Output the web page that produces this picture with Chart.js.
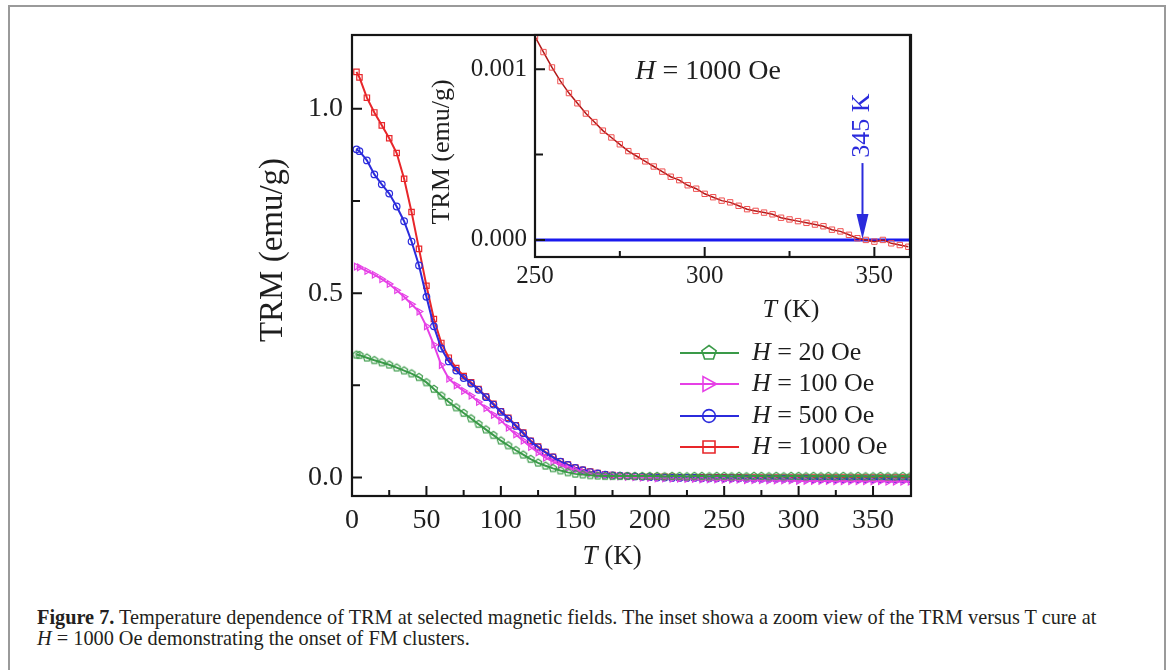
<!DOCTYPE html>
<html>
<head>
<meta charset="utf-8">
<script src="https://cdn.jsdelivr.net/npm/chart.js@4.4.1/dist/chart.umd.min.js"></script>
<style>
  body { margin: 0; background: #fff; width: 1171px; height: 670px; overflow: hidden; position: relative; font-family: 'Liberation Serif', serif; }
  #frame { position: absolute; left: 8px; top: 5px; width: 1154px; height: 700px; border: 2px solid #9a9a9a; }
  #main { position: absolute; left: 0; top: 0; }
  #inset { position: absolute; left: 400px; top: 0; }
  #caption { position: absolute; left: 37px; top: 607px; font-size: 20.3px; line-height: 21px; color: #231f20; white-space: nowrap; }
</style>
</head>
<body>
<div id="frame"></div>
<canvas id="main" width="1171" height="580"></canvas>
<canvas id="inset" width="530" height="330"></canvas>
<div id="caption"><b>Figure 7.</b> Temperature dependence of TRM at selected magnetic fields. The inset showa a zoom view of the TRM versus T cure at<br><i>H</i> = 1000 Oe demonstrating the onset of FM clusters.</div>

<script>
// main plot: TRM vs T for four fields
const temps = [3, 5, 10, 15, 20, 25, 30, 35, 40, 45, 50, 55, 60, 65, 70, 75, 80, 85, 90, 95,
  100, 105, 110, 115, 120, 125, 130, 135, 140, 145, 150, 155, 160, 165, 170, 175, 180, 185, 190, 195,
  200, 205, 210, 215, 220, 225, 230, 235, 240, 245, 250, 255, 260, 265, 270, 275, 280, 285, 290, 295,
  300, 305, 310, 315, 320, 325, 330, 335, 340, 345, 350, 355, 360, 365, 370, 375];

const trm20 = [0.333, 0.332, 0.325, 0.318, 0.312, 0.306, 0.298, 0.290, 0.282, 0.272,
  0.258, 0.240, 0.222, 0.205, 0.190, 0.175, 0.160, 0.145, 0.130, 0.115,
  0.100, 0.087, 0.074, 0.062, 0.050, 0.040, 0.032, 0.025, 0.019, 0.014,
  0.010, 0.008, 0.006, 0.005, 0.004, 0.004, 0.004, 0.004, 0.004, 0.004,
  0.004,
  0.004, 0.003, 0.004, 0.004, 0.003, 0.004, 0.004, 0.003, 0.004, 0.004,
  0.003, 0.004, 0.003, 0.004, 0.004, 0.003, 0.004, 0.003, 0.004, 0.004,
  0.003, 0.004, 0.003, 0.004, 0.003, 0.004, 0.003, 0.004, 0.003, 0.003,
  0.004, 0.003, 0.003, 0.004, 0.003];

const trm100 = [0.572, 0.570, 0.560, 0.550, 0.538, 0.525, 0.508, 0.490, 0.470, 0.450,
  0.410, 0.360, 0.305, 0.268, 0.250, 0.235, 0.222, 0.205, 0.188, 0.170,
  0.155, 0.135, 0.117, 0.100, 0.083, 0.068, 0.054, 0.043, 0.034, 0.026,
  0.020, 0.015, 0.011, 0.008, 0.006, 0.004, 0.003, 0.002, 0.001, 0.000,
  -0.001,
  -0.002, -0.002, -0.003, -0.003, -0.004, -0.004, -0.005, -0.005, -0.005, -0.006,
  -0.006, -0.006, -0.007, -0.007, -0.007, -0.008, -0.008, -0.008, -0.008, -0.009,
  -0.009, -0.009, -0.009, -0.009, -0.010, -0.010, -0.010, -0.010, -0.010, -0.010,
  -0.010, -0.011, -0.011, -0.011, -0.011];

const trm500 = [0.890, 0.885, 0.860, 0.822, 0.795, 0.770, 0.735, 0.695, 0.640, 0.575,
  0.490, 0.410, 0.350, 0.315, 0.290, 0.270, 0.255, 0.238, 0.218, 0.198,
  0.178, 0.160, 0.140, 0.120, 0.098, 0.082, 0.068, 0.055, 0.043, 0.034,
  0.026, 0.020, 0.015, 0.011, 0.008, 0.006, 0.005, 0.004, 0.003, 0.002,
  0.001,
  0.000, 0.000, -0.001, -0.001, -0.001, -0.001, -0.002, -0.002, -0.002, -0.002,
  -0.002, -0.002, -0.003, -0.003, -0.003, -0.003, -0.003, -0.003, -0.003, -0.003,
  -0.003, -0.004, -0.004, -0.004, -0.004, -0.004, -0.004, -0.004, -0.004, -0.004,
  -0.004, -0.004, -0.005, -0.005, -0.005];

const trm1000 = [1.100, 1.085, 1.030, 0.990, 0.955, 0.920, 0.880, 0.810, 0.720, 0.620,
  0.520, 0.430, 0.365, 0.325, 0.297, 0.275, 0.258, 0.240, 0.220, 0.200,
  0.180, 0.162, 0.142, 0.122, 0.100, 0.084, 0.069, 0.056, 0.044, 0.035,
  0.027, 0.021, 0.016, 0.012, 0.009, 0.007, 0.005, 0.004, 0.003, 0.002,
  0.002,
  0.002, 0.002, 0.002, 0.001, 0.001, 0.001, 0.001, 0.001, 0.001, 0.001,
  0.001, 0.001, 0.000, 0.000, 0.000, 0.000, 0.000, 0.000, 0.000, 0.000,
  0.000, 0.000, 0.000, 0.000, 0.000, 0.000, 0.000, 0.000, 0.000, 0.000,
  0.000, 0.000, 0.000, 0.000, 0.000];

const fieldLabels = ['20 Oe', '100 Oe', '500 Oe', '1000 Oe'];
const mainXTicks = [0, 50, 100, 150, 200, 250, 300, 350];
const mainXMinor = [25, 75, 125, 175, 225, 275, 325];
const mainYTicks = [0, 0.5, 1.0];
const mainYMinor = [0.25, 0.75];

// inset: H = 1000 Oe near the onset
const insetT = [250, 252.5, 255, 257.5, 260, 262.5, 265, 267.5, 270, 272.5,
  275, 277.5, 280, 282.5, 285, 287.5, 290, 292.5, 295, 297.5,
  300, 302.5, 305, 307.5, 310, 312.5, 315, 317.5, 320, 322.5,
  325, 327.5, 330, 332.5, 335, 337.5, 340, 342.5, 345, 347.5,
  350, 352.5, 355, 357.5, 360];
const insetTrm = [0.00119, 0.00110, 0.00101, 0.00093, 0.00086, 0.00080, 0.00074, 0.00069, 0.00064, 0.00060,
  0.00056, 0.00052, 0.00049, 0.00046, 0.00043, 0.00040, 0.00037, 0.00035, 0.00032, 0.00030,
  0.00027, 0.00025, 0.00023, 0.00022, 0.00020, 0.00018, 0.00017, 0.00016, 0.00015, 0.00013,
  0.00012, 0.00011, 0.00010, 0.00009, 0.00008, 0.00006, 0.00005, 0.00003, 0.00001, 0.00000,
  -0.00001, 0.00000, -0.00002, -0.00003, -0.00004];
const zeroT = [250, 360.5];
const zeroLine = [0, 0];
const insetXTicks = [250, 300, 350];
const insetXMinor = [275, 325];
const insetYTicks = [0, 0.001];
const insetYMinor = [0.0005];
const onsetT = 346.5;

const GREEN = '#3a9a48', MAGENTA = '#e640e6', BLUE = '#2b2bdc', RED = '#e8262a';
const SERIF = "'Liberation Serif', 'Times New Roman', serif";
const INK = '#1e1e1e';

function pts(xs, ys) {
  return xs.map((t, i) => ({ x: t, y: ys[i] }));
}

function pentagon(color, r) {
  const c = document.createElement('canvas');
  const s = Math.ceil(r * 2 + 4);
  c.width = s; c.height = s;
  const g = c.getContext('2d');
  g.strokeStyle = color; g.lineWidth = 1.2;
  g.beginPath();
  for (let k = 0; k < 5; k++) {
    const a = -Math.PI / 2 + k * 2 * Math.PI / 5;
    const px = s / 2 + r * Math.cos(a), py = s / 2 + r * Math.sin(a);
    k ? g.lineTo(px, py) : g.moveTo(px, py);
  }
  g.closePath(); g.stroke();
  return c;
}

function drawMarker(ctx, kind, x, y, r, color) {
  ctx.save();
  ctx.strokeStyle = color; ctx.lineWidth = 1.6;
  ctx.beginPath();
  if (kind === 'pent') {
    for (let k = 0; k < 5; k++) {
      const a = -Math.PI / 2 + k * 2 * Math.PI / 5;
      const px = x + r * Math.cos(a), py = y + r * Math.sin(a);
      k ? ctx.lineTo(px, py) : ctx.moveTo(px, py);
    }
    ctx.closePath();
  } else if (kind === 'tri') {
    ctx.moveTo(x + r, y); ctx.lineTo(x - r * 0.8, y - r); ctx.lineTo(x - r * 0.8, y + r); ctx.closePath();
  } else if (kind === 'circ') {
    ctx.arc(x, y, r * 0.85, 0, Math.PI * 2);
  } else {
    ctx.rect(x - r * 0.8, y - r * 0.8, r * 1.6, r * 1.6);
  }
  ctx.stroke();
  ctx.restore();
}

// draw text made of parts, some italic
function rich(ctx, parts, x, y, size, align, color) {
  ctx.save();
  ctx.fillStyle = color || INK;
  ctx.textBaseline = 'middle';
  let w = 0;
  parts.forEach(p => { ctx.font = (p.i ? 'italic ' : '') + size + 'px ' + SERIF; w += ctx.measureText(p.t).width; });
  let cx = align === 'center' ? x - w / 2 : x;
  ctx.textAlign = 'left';
  parts.forEach(p => {
    ctx.font = (p.i ? 'italic ' : '') + size + 'px ' + SERIF;
    ctx.fillText(p.t, cx, y);
    cx += ctx.measureText(p.t).width;
  });
  ctx.restore();
}

function boxAndTicks(xMajor, xMinor, yMajor, yMinor, white) {
  return {
    id: 'boxAndTicks',
    beforeDatasetsDraw(chart) {
      if (!white) return;
      const a = chart.chartArea, ctx = chart.ctx;
      ctx.save(); ctx.fillStyle = '#fff';
      ctx.fillRect(a.left, a.top, a.right - a.left, a.bottom - a.top);
      ctx.restore();
    },
    afterDatasetsDraw(chart) {
      const { ctx, chartArea: a, scales: { x, y } } = chart;
      ctx.save();
      ctx.strokeStyle = '#151515'; ctx.lineWidth = 2.2;
      ctx.strokeRect(a.left, a.top, a.right - a.left, a.bottom - a.top);
      ctx.lineWidth = 2;
      ctx.beginPath();
      xMajor.forEach(v => { const px = x.getPixelForValue(v); ctx.moveTo(px, a.bottom); ctx.lineTo(px, a.bottom - 10); });
      xMinor.forEach(v => { const px = x.getPixelForValue(v); ctx.moveTo(px, a.bottom); ctx.lineTo(px, a.bottom - 6); });
      yMajor.forEach(v => { const py = y.getPixelForValue(v); ctx.moveTo(a.left, py); ctx.lineTo(a.left + 10, py); });
      yMinor.forEach(v => { const py = y.getPixelForValue(v); ctx.moveTo(a.left, py); ctx.lineTo(a.left + 8, py); });
      ctx.stroke();
      ctx.restore();
    }
  };
}

const mainLabels = {
  id: 'mainLabels',
  afterDraw(chart) {
    const ctx = chart.ctx;
    ctx.save();
    ctx.translate(273, 250);
    ctx.rotate(-Math.PI / 2);
    rich(ctx, [{ t: 'TRM (emu/g)' }], 0, 0, 33, 'center');
    ctx.restore();
    rich(ctx, [{ t: 'T', i: true }, { t: ' (K)' }], 612, 557, 27, 'center');

    // legend
    const kinds = ['pent', 'tri', 'circ', 'sq'];
    const cols = [GREEN, MAGENTA, BLUE, RED];
    const rows = [353, 384, 416, 447];
    fieldLabels.forEach((lab, i) => {
      const yy = rows[i];
      ctx.save();
      ctx.strokeStyle = cols[i]; ctx.lineWidth = 2;
      ctx.beginPath(); ctx.moveTo(680, yy); ctx.lineTo(739, yy); ctx.stroke();
      ctx.restore();
      drawMarker(ctx, kinds[i], 709, yy, 7.5, cols[i]);
      rich(ctx, [{ t: 'H', i: true }, { t: ' = ' + lab }], 752, yy, 26, 'left');
    });
  }
};

const tickFontMain = { family: SERIF, size: 28 };

new Chart(document.getElementById('main'), {
  type: 'line',
  data: {
    datasets: [
      { data: pts(temps, trm20), borderColor: GREEN, borderWidth: 2, pointStyle: pentagon(GREEN, 3.8), pointRadius: 3.5, backgroundColor: 'transparent' },
      { data: pts(temps, trm100), borderColor: MAGENTA, borderWidth: 2, pointStyle: 'triangle', rotation: 90, pointRadius: 3.8, pointBorderWidth: 1.2, pointBackgroundColor: 'transparent', backgroundColor: 'transparent' },
      { data: pts(temps, trm500), borderColor: BLUE, borderWidth: 2, pointStyle: 'circle', pointRadius: 3.3, pointBorderWidth: 1.2, pointBackgroundColor: 'transparent', backgroundColor: 'transparent' },
      { data: pts(temps, trm1000), borderColor: RED, borderWidth: 2, pointStyle: 'rect', pointRadius: 3.8, pointBorderWidth: 1.2, pointBackgroundColor: 'transparent', backgroundColor: 'transparent' }
    ]
  },
  options: {
    responsive: false,
    animation: false,
    layout: { padding: { left: 0, top: 35, right: 260, bottom: 0 } },
    plugins: { legend: { display: false }, tooltip: { enabled: false } },
    scales: {
      x: {
        type: 'linear', min: 0, max: 375.5,
        afterFit: s => { s.height = 84; },
        afterBuildTicks: s => { s.ticks = mainXTicks.map(v => ({ value: v })); },
        grid: { display: false, drawTicks: false },
        border: { display: false },
        ticks: { font: tickFontMain, color: INK, padding: 8, maxRotation: 0, autoSkip: false, callback: v => String(v) }
      },
      y: {
        type: 'linear', min: -0.05, max: 1.2,
        afterFit: s => { s.width = 352; },
        afterBuildTicks: s => { s.ticks = mainYTicks.map(v => ({ value: v })); },
        grid: { display: false, drawTicks: false },
        border: { display: false },
        ticks: { font: tickFontMain, color: INK, padding: 9, autoSkip: false, callback: v => v.toFixed(1) }
      }
    }
  },
  plugins: [boxAndTicks(mainXTicks, mainXMinor, mainYTicks, mainYMinor, false), mainLabels]
});

const insetLabels = {
  id: 'insetLabels',
  afterDraw(chart) {
    const { ctx, scales: { x, y } } = chart;
    ctx.save();
    ctx.translate(42, 152);
    ctx.rotate(-Math.PI / 2);
    rich(ctx, [{ t: 'TRM (emu/g)' }], 0, 0, 26, 'center');
    ctx.restore();
    rich(ctx, [{ t: 'T', i: true }, { t: ' (K)' }], 391, 310, 26, 'center');
    rich(ctx, [{ t: 'H', i: true }, { t: ' = 1000 Oe' }], 308, 72, 28, 'center');

    // arrow marking the onset
    const xa = x.getPixelForValue(onsetT);
    const y0 = y.getPixelForValue(0);
    const yTop = y.getPixelForValue(0.00045);
    ctx.save();
    ctx.strokeStyle = BLUE; ctx.fillStyle = BLUE; ctx.lineWidth = 2;
    ctx.beginPath(); ctx.moveTo(xa, yTop); ctx.lineTo(xa, y0 - 20); ctx.stroke();
    ctx.beginPath(); ctx.moveTo(xa - 6, y0 - 26); ctx.lineTo(xa + 6, y0 - 26); ctx.lineTo(xa, y0 - 1); ctx.closePath(); ctx.fill();
    ctx.translate(xa, y.getPixelForValue(0.00067));
    ctx.rotate(-Math.PI / 2);
    rich(ctx, [{ t: '345 K' }], 0, 0, 26, 'center', BLUE);
    ctx.restore();
  }
};

const tickFontInset = { family: SERIF, size: 25 };

new Chart(document.getElementById('inset'), {
  type: 'line',
  data: {
    datasets: [
      { data: pts(insetT, insetTrm), borderColor: '#b01818', borderWidth: 1.5, pointStyle: 'rect', pointRadius: 3.8, pointBorderWidth: 1, pointBorderColor: '#f05050', pointBackgroundColor: 'transparent', backgroundColor: 'transparent' },
      { data: pts(zeroT, zeroLine), borderColor: '#1a1aee', borderWidth: 3, pointRadius: 0 }
    ]
  },
  options: {
    responsive: false,
    animation: false,
    layout: { padding: { left: 0, top: 35, right: 20, bottom: 0 } },
    plugins: { legend: { display: false }, tooltip: { enabled: false } },
    scales: {
      x: {
        type: 'linear', min: 250, max: 360.5,
        afterFit: s => { s.height = 73; },
        afterBuildTicks: s => { s.ticks = insetXTicks.map(v => ({ value: v })); },
        grid: { display: false, drawTicks: false },
        border: { display: false },
        ticks: { font: tickFontInset, color: INK, padding: 4, maxRotation: 0, autoSkip: false, callback: v => String(v) }
      },
      y: {
        type: 'linear', min: -0.0001, max: 0.0012,
        afterFit: s => { s.width = 135; },
        afterBuildTicks: s => { s.ticks = insetYTicks.map(v => ({ value: v })); },
        grid: { display: false, drawTicks: false },
        border: { display: false },
        ticks: { font: tickFontInset, color: INK, padding: 8, autoSkip: false, callback: v => v.toFixed(3) }
      }
    }
  },
  plugins: [boxAndTicks(insetXTicks, insetXMinor, insetYTicks, insetYMinor, true), insetLabels]
});
</script>
</body>
</html>
